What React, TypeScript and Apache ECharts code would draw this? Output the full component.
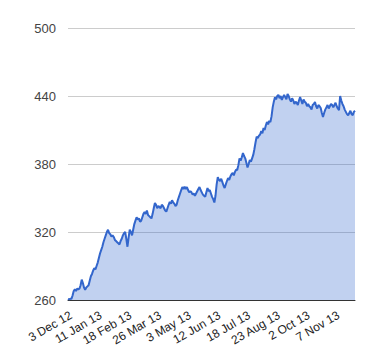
import React, { useEffect, useRef } from "react";
import * as echarts from "echarts";

const tickLabels = ["3 Dec 12", "11 Jan 13", "18 Feb 13", "26 Mar 13", "3 May 13", "12 Jun 13", "18 Jul 13", "23 Aug 13", "2 Oct 13", "7 Nov 13"];
const tickStep = 26; // trading days between labels

const prices = [
  261, 260.5, 261, 261, 264, 268, 269.5, 268, 270, 269.5,
  270, 273, 278, 275, 271, 269, 271, 272, 273, 277,
  281, 283, 286, 288, 287, 290, 293, 297, 301, 304,
  307, 311, 314, 317, 320, 322, 319, 318, 316, 317,
  315.6, 313, 312, 311, 310, 309, 312, 314, 317, 319,
  320, 314, 307, 315, 322, 320, 317, 322, 327, 330,
  333, 331, 332, 329, 330, 333, 336, 337.6, 336, 339,
  335, 334, 333, 332, 336, 341, 345.6, 344, 341, 343,
  342, 341, 344, 343, 341, 339, 338, 341, 344, 346.5,
  345, 348, 346, 345, 343, 344, 348, 351, 354, 357,
  359.7, 358, 360, 358, 359.7, 357, 355, 356, 355, 353,
  354, 352, 354, 356, 358, 359.7, 357, 355, 353, 352,
  351, 355, 358.8, 356, 357, 354, 351, 349, 346, 352,
  362, 368.5, 366, 365, 367, 364, 361, 358.8, 362, 365,
  367.6, 366, 369, 371, 372, 370, 373, 375, 374.7, 379,
  385, 383, 386, 389.7, 387, 385, 381, 377, 380, 383.5,
  382, 385, 388, 393, 399, 404, 403, 405, 406, 409,
  407, 411.8, 410, 414, 417, 415, 418, 417, 422, 430,
  435, 439, 437, 440, 441, 438, 440, 436.5, 439, 441,
  439, 437, 441.8, 440, 437, 435, 438, 436, 433, 435,
  434, 432, 436, 439, 436, 433, 437, 435, 434, 431,
  433, 431, 430, 428, 432, 433, 434.7, 431, 429, 432,
  431, 429.4, 425, 421.5, 425, 428, 430, 432, 429, 431,
  433, 432, 430, 432, 434, 431, 429, 427.6, 440, 436,
  433, 431, 428, 426, 424, 423, 425, 427, 424, 423,
  426, 427,
];

const yTicks = [260, 320, 380, 440, 500];

export default function App() {
  const ref = useRef<HTMLDivElement>(null);
  useEffect(() => {
    if (!ref.current) return;
    const chart = echarts.init(ref.current, null, { renderer: "svg" });
    const font = "Arial, 'Liberation Sans', sans-serif";
    chart.setOption({
      animation: false,
      grid: { left: 60, right: 17, top: 20, bottom: 52, containLabel: false },
      xAxis: {
        type: "value",
        min: 0,
        max: prices.length - 1,
        interval: tickStep,
        axisLine: { show: true, lineStyle: { color: "#333", width: 1 } },
        axisTick: { show: false },
        splitLine: { show: false },
        axisLabel: {
          rotate: 30,
          margin: 9,
          align: "right",
          verticalAlign: "top",
          fontSize: 12,
          fontFamily: font,
          color: "#222",
          showMaxLabel: false,
          formatter: (v: number) => (v % tickStep === 0 ? tickLabels[v / tickStep] ?? "" : ""),
        },
      },
      yAxis: {
        type: "value",
        min: yTicks[0],
        max: yTicks[yTicks.length - 1],
        interval: 60,
        axisLine: { show: false },
        axisTick: { show: false },
        splitLine: { lineStyle: { color: "#cccccc", width: 1 } },
        axisLabel: { fontSize: 13, fontFamily: font, color: "#444", margin: 12 },
      },
      series: [
        {
          type: "line",
          data: prices.map((p, i) => [i, p]),
          showSymbol: false,
          lineStyle: { color: "#3366cc", width: 2 },
          itemStyle: { color: "#3366cc" },
          areaStyle: { color: "#3366cc", opacity: 0.3 },
          z: 3,
        },
      ],
    });
    return () => chart.dispose();
  }, []);
  return <div ref={ref} style={{ width: 364, height: 344 }} />;
}
